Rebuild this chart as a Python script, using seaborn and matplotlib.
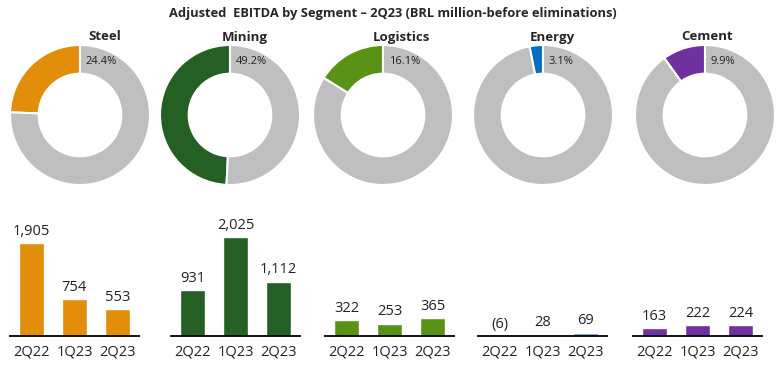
import numpy as np
import pandas as pd
import matplotlib
matplotlib.use("Agg")
import matplotlib.pyplot as plt
import seaborn as sns

segments = ["Steel", "Mining", "Logistics", "Energy", "Cement"]
share_pct = [24.4, 49.2, 16.1, 3.1, 9.9]
quarters = ["2Q22", "1Q23", "2Q23"]
ebitda = {
    "Steel": [1905, 754, 553],
    "Mining": [931, 2025, 1112],
    "Logistics": [322, 253, 365],
    "Energy": [-6, 28, 69],
    "Cement": [163, 222, 224],
}
donut_colors = ["#E28E0A", "#246024", "#5A9216", "#0070C0", "#7030A0"]
bar_colors = ["#E28E0A", "#246024", "#5A9216", "#5B9BD5", "#7030A0"]
rest_color = "#BFBFBF"

W, H = 778, 375
sns.set_style("white")
plt.rcParams["font.family"] = ["Open Sans", "DejaVu Sans"]

fig = plt.figure(figsize=(W / 100, H / 100), dpi=100)

def px_axes(x0, y0, w, h):
    # pixel box (top-left origin) -> figure axes
    return fig.add_axes([x0 / W, 1 - (y0 + h) / H, w / W, h / H])

fig.text(0.505, 1 - 13 / H, "Adjusted  EBITDA by Segment \u2013 2Q23 (BRL million-before eliminations)",
         ha="center", va="center", fontsize=9.3, fontweight="bold")

donut_cx = [80, 230, 383, 543, 705]
title_dx = [25, 15, 18, 9, 2]
bar_x0 = [10, 171, 325, 478, 633]
r = 70

for i, seg in enumerate(segments):
    cx = donut_cx[i]
    ax = px_axes(cx - r, 115 - r, 2 * r, 2 * r)
    p = share_pct[i]
    ax.pie([p, 100 - p], colors=[donut_colors[i], rest_color], startangle=90,
           counterclock=True, radius=1.0,
           wedgeprops=dict(width=0.41, edgecolor="white", linewidth=1.5))
    ax.set_xlim(-1, 1)
    ax.set_ylim(-1, 1)
    ax.set_aspect("equal")
    ax.axis("off")
    ax.text(0.08, 0.76, f"{p:.1f}%", fontsize=8, ha="left", va="center", color="#222222")
    fig.text((cx + title_dx[i]) / W, 1 - 37 / H, seg, ha="center", va="center",
             fontsize=9.5, fontweight="bold")

    # bars
    bx = px_axes(bar_x0[i], 204, 129, 132)
    df = pd.DataFrame({"quarter": quarters, "value": ebitda[seg]})
    sns.barplot(data=df, x="quarter", y="value", color=bar_colors[i], width=0.56,
                saturation=1, ax=bx)
    bx.set_ylim(0, 2700)
    bx.set_xlim(-0.5, 2.5)
    bx.set_xlabel("")
    bx.set_ylabel("")
    bx.set_yticks([])
    for s in ["top", "right", "left"]:
        bx.spines[s].set_visible(False)
    bx.spines["bottom"].set_color("black")
    bx.spines["bottom"].set_linewidth(1.3)
    bx.tick_params(axis="x", length=0, labelsize=10.5, pad=6, colors="#222222")
    for j, v in enumerate(ebitda[seg]):
        lbl = f"({abs(v):,})" if v < 0 else f"{v:,}"
        bx.annotate(lbl, (j, max(v, 0)), xytext=(0, 3), textcoords="offset points",
                    ha="center", va="bottom", fontsize=10.5, color="#222222")

fig.savefig("out.png", dpi=100)
